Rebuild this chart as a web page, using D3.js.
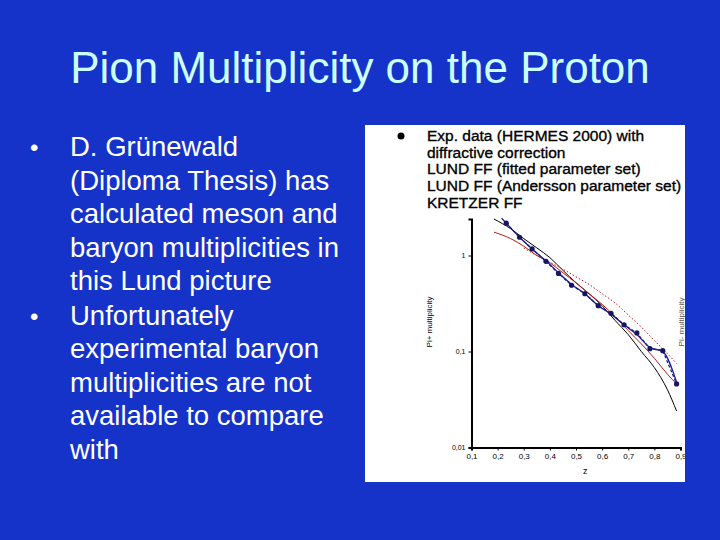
<!DOCTYPE html><html><head><meta charset="utf-8">
<script src="https://cdn.jsdelivr.net/npm/d3@7"></script>
<style>body{margin:0;background:#1533c9;}svg{display:block}</style></head><body>
<svg id="c" width="720" height="540"></svg>
<script>
const title = "Pion Multiplicity on the Proton";
const bullets = [
 ["D. Grünewald","(Diploma Thesis) has","calculated meson and","baryon multiplicities in","this Lund picture"],
 ["Unfortunately","experimental baryon","multiplicities are not","available to compare","with"]];
const legendLabels = ["Exp. data (HERMES 2000) with","diffractive correction","LUND FF (fitted parameter set)","LUND FF (Andersson parameter set)","KRETZER FF"];
const xTicks = [0.1,0.2,0.3,0.4,0.5,0.6,0.7,0.8,0.9];
const xTickLabels = ["0,1","0,2","0,3","0,4","0,5","0,6","0,7","0,8","0,9"];
const yTicks = [0.01,0.1,1];
const yTickLabels = ["0,01","0,1","1"];
const dataZ = [0.233,0.284,0.332,0.385,0.433,0.483,0.534,0.585,0.634,0.684,0.733,0.783,0.832,0.885];
const dataV = [2.17,1.55,1.17,0.87,0.65,0.49,0.40,0.30,0.25,0.19,0.156,0.107,0.102,0.046];
const fitZ = [0.215,0.233,0.284,0.332,0.385,0.433,0.483,0.534,0.585,0.634,0.684,0.733,0.783,0.832,0.885];
const fitV = [2.45,2.17,1.55,1.17,0.88,0.66,0.50,0.40,0.30,0.245,0.19,0.15,0.11,0.10,0.048];
const kretzerZ = [0.186,0.25,0.3,0.35,0.4,0.45,0.5,0.55,0.6,0.65,0.7,0.75,0.8,0.85,0.885];
const kretzerV = [2.4,1.9,1.5,1.2,0.95,0.70,0.52,0.40,0.30,0.21,0.15,0.10,0.068,0.040,0.024];
const redZ = [0.186,0.25,0.3,0.35,0.4,0.45,0.5,0.55,0.6,0.65,0.7,0.75,0.8,0.85,0.885];
const redV = [1.75,1.5,1.25,1.0,0.84,0.66,0.52,0.40,0.31,0.23,0.165,0.12,0.085,0.058,0.046];
const redDotZ = [0.3,0.35,0.4,0.45,0.5,0.55,0.6,0.65,0.7,0.75,0.8,0.85,0.885];
const redDotV = [1.2,1.0,0.85,0.72,0.60,0.50,0.40,0.32,0.24,0.18,0.13,0.095,0.075];

const svg = d3.select("#c");
svg.append("text").attr("x",360).attr("y",83).attr("text-anchor","middle")
 .attr("font-family","Liberation Sans, Arial").attr("font-size",44).attr("fill","#ccffff").text(title);
let y0=156;
bullets.forEach(b=>{
 svg.append("text").attr("x",30).attr("y",y0).attr("font-family","Liberation Sans, Arial").attr("font-size",24).attr("fill","#fff").text("•");
 b.forEach((l,i)=>svg.append("text").attr("x",70).attr("y",y0+i*33.5).attr("font-family","Liberation Sans, Arial").attr("font-size",27.5).attr("fill","#fff").text(l));
 y0+=b.length*33.5+1;
});
svg.append("rect").attr("x",365).attr("y",125).attr("width",320).attr("height",357).attr("fill","#fff");
svg.append("clipPath").attr("id","cp").append("rect").attr("x",365).attr("y",125).attr("width",320).attr("height",357);
const g = svg.append("g").attr("clip-path","url(#cp)");
const x = d3.scaleLinear().domain([0.1,0.9]).range([471.5,680.5]);
const y = d3.scaleLog().domain([0.01,2.4]).range([447.5,219]);
g.append("g").attr("transform","translate(0,447.5)").call(d3.axisBottom(x).tickValues(xTicks).tickFormat((d,i)=>xTickLabels[i]).tickSize(3))
 .call(a=>{a.select(".domain").attr("stroke-width",2);a.selectAll("text").attr("font-size",8).attr("font-family","Liberation Sans")});
g.append("g").attr("transform","translate(471.5,0)").call(d3.axisLeft(y).tickValues(yTicks).tickFormat((d,i)=>yTickLabels[i]).tickSize(3))
 .call(a=>{a.select(".domain").attr("stroke-width",2);a.selectAll("text").attr("font-size",7).attr("font-family","Liberation Sans")});
g.append("text").attr("x",583).attr("y",474).attr("font-size",9).attr("font-family","Liberation Sans").text("z");
g.append("text").attr("transform","translate(432,322) rotate(-90)").attr("text-anchor","middle").attr("font-size",8).attr("font-family","Liberation Sans").text("Pi+ multiplicity");
g.append("text").attr("transform","translate(684,322) rotate(-90)").attr("text-anchor","middle").attr("font-size",8).attr("font-family","Liberation Sans").attr("fill","#555").text("Pi- multiplicity");
const line = (zs,vs)=>d3.line().x((d,i)=>x(zs[i])).y((d,i)=>y(vs[i])).curve(d3.curveMonotoneX)(zs);
g.append("path").attr("d",line(kretzerZ,kretzerV)).attr("fill","none").attr("stroke","#000").attr("stroke-width",1);
g.append("path").attr("d",line(redZ,redV)).attr("fill","none").attr("stroke","#c01818").attr("stroke-width",1);
g.append("path").attr("d",line(redDotZ,redDotV)).attr("fill","none").attr("stroke","#c01818").attr("stroke-width",1).attr("stroke-dasharray","1.5,2");
g.append("path").attr("d",line(fitZ,fitV)).attr("fill","none").attr("stroke","#1a1a9a").attr("stroke-width",1.3);
g.append("path").attr("d",d3.line().x((d,i)=>x(dataZ[i])).y((d,i)=>y(dataV[i]))(dataZ)).attr("fill","none").attr("stroke","#1a1a7a").attr("stroke-width",1.2).attr("stroke-dasharray","3,2");
g.selectAll("circle.d").data(dataZ).join("circle").attr("cx",d=>x(d)).attr("cy",(d,i)=>y(dataV[i])).attr("r",2.6).attr("fill","#151560");
g.append("circle").attr("cx",401).attr("cy",136).attr("r",3.5).attr("fill","#000");
legendLabels.forEach((l,i)=>g.append("text").attr("x",427).attr("y",141+i*16.7).attr("font-size",15.5).attr("font-family","Liberation Sans, Arial").attr("fill","#000").attr("stroke","#000").attr("stroke-width",0.35).text(l));
</script></body></html>
